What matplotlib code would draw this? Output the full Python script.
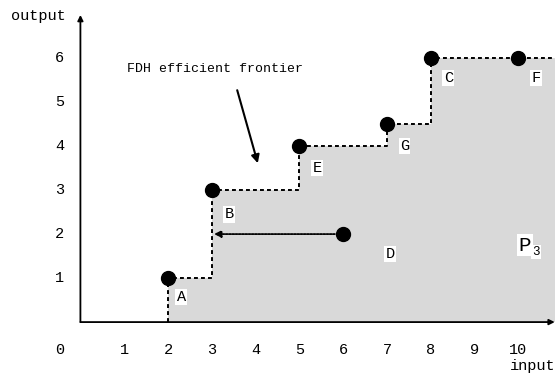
import numpy as np
import matplotlib.pyplot as plt

# FDH frontier points and the inefficient unit
names = ["A", "B", "E", "G", "C", "F"]
inputs = [2, 3, 5, 7, 8, 10]
outputs = [1, 3, 4, 4.5, 6, 6]
d_point = (6, 2)
d_target = 3.05
ticks_x = list(range(1, 11))
ticks_y = list(range(1, 7))

mono = "Liberation Mono"
plt.rcParams["font.family"] = mono

fig = plt.figure(figsize=(5.55, 3.74), dpi=100)
ax = fig.add_axes([0, 0, 1, 1])
ax.set_xlim(-1.836, 10.836)
ax.set_ylim(-1.18, 7.32)
ax.axis("off")

xmax = 10.84

# staircase hull (free disposal)
sx = [inputs[0]] + inputs[:5] + [xmax]
sy = [0] + outputs[:5] + [outputs[4]]
ax.fill_between(sx, sy, step="post", color="#d9d9d9", lw=0, zorder=1)
ax.step(sx, sy, where="post", color="black", lw=1.4, ls=(0, (2, 1.6)), zorder=2)

ax.plot(inputs, outputs, "o", color="black", ms=10, zorder=4)
ax.plot(*d_point, "o", color="black", ms=10, zorder=4)

# D projected horizontally onto the frontier
ax.annotate("", xy=(d_target, d_point[1]), xytext=d_point,
            arrowprops=dict(arrowstyle="-|>", color="black", lw=1.3,
                            ls=(0, (1, 0.8)), mutation_scale=10,
                            shrinkA=6, shrinkB=0), zorder=3)

# axes with arrow heads
ax.annotate("", xy=(0, 6.98), xytext=(0, 0),
            arrowprops=dict(arrowstyle="-|>", color="black", lw=1.3,
                            mutation_scale=8, shrinkA=0, shrinkB=0))
ax.annotate("", xy=(10.83, 0), xytext=(0, 0),
            arrowprops=dict(arrowstyle="-|>", color="black", lw=1.3,
                            mutation_scale=8, shrinkA=0, shrinkB=0))

fs = 11
for v in ticks_x:
    ax.text(v, -0.64, str(v), ha="center", va="center", fontsize=fs)
ax.text(-0.47, -0.64, "0", ha="center", va="center", fontsize=fs)
for v in ticks_y:
    ax.text(-0.47, v, str(v), ha="center", va="center", fontsize=fs)
ax.text(-0.97, 6.95, "output", ha="center", va="center", fontsize=fs)
ax.text(10.33, -1.0, "input", ha="center", va="center", fontsize=fs)

# point labels
offsets = {"A": (0.3, -0.43), "B": (0.4, -0.55), "E": (0.4, -0.5),
           "G": (0.4, -0.5), "C": (0.4, -0.45), "F": (0.4, -0.45)}
box = dict(facecolor="white", edgecolor="none", pad=1)
for n, x, y in zip(names, inputs, outputs):
    dx, dy = offsets[n]
    ax.text(x + dx, y + dy, n, ha="center", va="center", fontsize=fs, bbox=box, zorder=5)
ax.text(d_point[0] + 1.07, d_point[1] - 0.45, "D", ha="center", va="center",
        fontsize=fs, bbox=box, zorder=5)

ax.text(10.15, 1.75, "P", ha="center", va="center", fontsize=15, bbox=box, zorder=5)
ax.text(10.4, 1.59, "3", ha="center", va="center", fontsize=9, bbox=box, zorder=5)

ax.text(3.07, 5.75, "FDH efficient frontier", ha="center", va="center", fontsize=9.5)
ax.annotate("", xy=(4.05, 3.61), xytext=(3.58, 5.27),
            arrowprops=dict(arrowstyle="-|>", color="black", lw=1.5,
                            mutation_scale=12, shrinkA=0, shrinkB=0))

fig.savefig("out.png", dpi=100)
